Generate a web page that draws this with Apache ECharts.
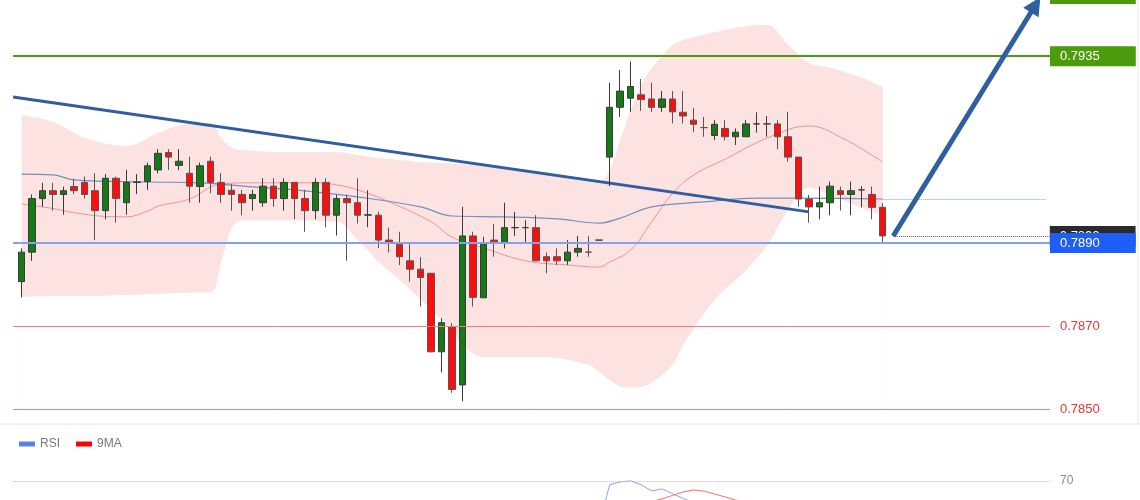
<!DOCTYPE html>
<html><head><meta charset="utf-8">
<script src="https://cdn.jsdelivr.net/npm/echarts@6/dist/echarts.min.js"></script>
<style>html,body{margin:0;padding:0;background:#fff;}#c{width:1140px;height:500px;}</style>
</head><body><div id="c"></div>
<script>
// ---- candles (index 0..82) ----
const opens = [0.78807,0.78878,0.79007,0.79026,0.79017,0.79036,0.79046,0.79026,0.78978,0.79056,
0.78997,0.79046,0.79048,0.79076,0.79118,0.79087,0.79068,0.79036,0.79097,0.79046,
0.79027,0.79017,0.79007,0.78997,0.79037,0.79007,0.79046,0.79007,0.78978,0.79046,
0.78967,0.79007,0.78997,0.78967,0.78967,0.78907,0.78897,0.78857,0.78837,0.78827,
0.78638,0.78698,0.78558,0.78917,0.78768,0.78907,0.78899,0.78937,0.78937,0.78937,
0.78867,0.78867,0.78857,0.78878,0.78878,0.78907,0.79107,0.79227,0.79249,0.79257,
0.79247,0.79227,0.79247,0.79215,0.79196,0.79178,0.79159,0.79176,0.79156,0.79156,
0.79187,0.79187,0.79187,0.79156,0.79107,0.79006,0.78987,0.78997,0.79026,0.79017,
0.79028,0.79017,0.78986];
const closes = [0.78878,0.79007,0.79026,0.79017,0.79026,0.79026,0.79017,0.78978,0.79056,0.79007,
0.79046,0.79047,0.79086,0.79116,0.79107,0.79097,0.79037,0.79086,0.79046,0.79017,
0.79017,0.78997,0.79017,0.79037,0.79007,0.79046,0.79007,0.78978,0.79046,0.78967,
0.79007,0.78997,0.78967,0.78968,0.78907,0.78899,0.78867,0.78837,0.78817,0.78638,
0.78708,0.78547,0.78917,0.78769,0.78898,0.78899,0.78937,0.78937,0.78937,0.78857,
0.78857,0.78857,0.78878,0.78887,0.78878,0.78907,0.79227,0.79266,0.79277,0.79246,
0.79227,0.79247,0.79216,0.79206,0.79186,0.79178,0.79186,0.79156,0.79167,0.79187,
0.79187,0.79187,0.79156,0.79107,0.79006,0.78987,0.78997,0.79037,0.79017,0.79026,
0.79028,0.78986,0.78917];
const lows = [0.78769,0.78857,0.78987,0.78978,0.78968,0.79018,0.79007,0.78907,0.78957,0.78949,
0.78968,0.79018,0.79028,0.79068,0.79076,0.79076,0.78997,0.78997,0.79020,0.78997,
0.78978,0.78967,0.78978,0.78987,0.78987,0.78978,0.78957,0.78927,0.78957,0.78938,
0.78918,0.78857,0.78947,0.78938,0.78888,0.78877,0.78847,0.78807,0.78747,0.78636,
0.78588,0.78539,0.78519,0.78747,0.78768,0.78867,0.78887,0.78917,0.78899,0.78857,
0.78827,0.78847,0.78847,0.78867,0.78867,0.78907,0.79037,0.79204,0.79216,0.79218,
0.79216,0.79216,0.79188,0.79188,0.79167,0.79156,0.79148,0.79147,0.79136,0.79156,
0.79166,0.79156,0.79126,0.79096,0.78987,0.78949,0.78957,0.78967,0.78978,0.78967,
0.78986,0.78957,0.78898];
const highs = [0.78887,0.79017,0.79045,0.79045,0.79036,0.79055,0.79060,0.79068,0.79066,0.79060,
0.79076,0.79066,0.79094,0.79126,0.79126,0.79126,0.79108,0.79094,0.79108,0.79068,
0.79042,0.79028,0.79028,0.79056,0.79056,0.79056,0.79046,0.79028,0.79056,0.79056,
0.79016,0.79016,0.79056,0.79027,0.78975,0.78937,0.78927,0.78897,0.78866,0.78828,
0.78719,0.78707,0.78987,0.78927,0.78915,0.78946,0.78997,0.78975,0.78955,0.78967,
0.78877,0.78887,0.78907,0.78917,0.78917,0.78907,0.79286,0.79317,0.79337,0.79295,
0.79286,0.79266,0.79266,0.79266,0.79225,0.79204,0.79196,0.79196,0.79176,0.79196,
0.79215,0.79206,0.79196,0.79216,0.79107,0.79016,0.79036,0.79048,0.79036,0.79048,
0.79037,0.79036,0.78996];

// ---- Bollinger band (sampled at candle indices) ----
const bandIdx = [0,3,6,10,13,15,18,19,20,21,25,30,32,34,36,38,40,42,44,50,54,55,56,57,58,59,60,62,63,66,69,71,73,75,77,80,82];
const bbUpper = [0.79208,0.79192,0.79153,0.79134,0.79165,0.79184,0.79189,0.79153,0.79129,0.79124,
0.79119,0.79119,0.79112,0.79105,0.79100,0.79095,0.79093,0.79090,0.79088,0.79071,
0.79052,0.79047,0.79076,0.79148,0.79220,0.79281,0.79322,0.79377,0.79389,0.79408,
0.79423,0.79425,0.79377,0.79334,0.79322,0.79298,0.79276];
const bbLower = [0.78770,0.78772,0.78772,0.78775,0.78777,0.78780,0.78782,0.78854,0.78936,0.78955,
0.78955,0.78951,0.78907,0.78854,0.78811,0.78763,0.78714,0.78654,0.78625,0.78625,
0.78606,0.78589,0.78570,0.78555,0.78551,0.78553,0.78563,0.78606,0.78654,0.78763,
0.78835,0.78895,0.78980,0.79033,0.79016,0.78984,0.78967];

// ---- moving averages ----
const maRedIdx = [0,3,5,8,10,12,13,16,18,19,22,28,30,32,35,39,41,44,48,52,55,56,58,60,62,64,67,71,75,78,82];
const maRed = [0.78994,0.78983,0.78973,0.78964,0.78963,0.78977,0.78989,0.79006,0.79035,0.79042,
0.79045,0.79045,0.79040,0.79028,0.78999,0.78951,0.78914,0.78888,0.78857,0.78847,
0.78842,0.78854,0.78883,0.78951,0.79020,0.79064,0.79102,0.79153,0.79182,0.79155,0.79095];
const maBlueIdx = [0,3,5,12,17,22,26,32,38,41,46,51,55,57,60,65,70,74,82];
const maBlue = [0.79066,0.79064,0.79052,0.79047,0.79045,0.79035,0.79028,0.79011,0.78987,0.78965,
0.78963,0.78958,0.78948,0.78960,0.78987,0.78999,0.79008,0.79008,0.79006];

// ---- drawn objects ----
const trendIdx = [-0.82, 74.98];
const trendVal = [0.79252, 0.78975];
const arrowIdx = [83.0, 96.56];
const arrowVal = [0.78917, 0.79474];
const levelVals = [0.7950, 0.7935, 0.7890, 0.7870, 0.7850];
const levelText = ['0.7950', '0.7935', '0.7890', '0.7870', '0.7850'];
const priceNow = 0.78917, priceNowText = '0.7892';

// ---- RSI panel ----
const rsiIdx = [48,49,50,51,52,53,54,55,56,57,58,59,60,61,62,63,64,65,66,67,68,69,70,71,72,73,74,75,76,77,78,79,80,81,82];
const rsiVal = [44,38,37,38,40,41,42,39,67.2,69.3,70.1,67.2,62.8,64.2,60.6,57.3,54.0,52.5,54,50.5,51.5,53,53.5,53,50,45,36,34,37,42,40,41.5,41,37,30];
const ma9Idx = [50,51,52,53,54,55,56,57,58,59,60,61,62,63,64,65,66,67,68,69,70,71,72,73,74,75,76,77,78,79,80,81,82];
const ma9Val = [42,41,40,40,40,40,43,46.5,50,53,55,57,59.5,62,63.5,62.5,60.5,58.3,56,55,54.5,54,53,52,50,48,46,45,44,42,41,40,39];
const rsiLevel = 70;

const X_MIN = -0.829, X_MAX = 97.93;
const FONT = "'Liberation Sans', Arial, sans-serif";
const pairs = (xs, ys) => xs.map((x, i) => [x, ys[i]]);
const candleData = opens.map((o, i) => [i, o, closes[i], lows[i], highs[i]]);

function tag(bg, text) {
  return {show: true, position: 'end', distance: 0, formatter: text, color: '#fff',
    backgroundColor: bg, padding: [3, 36, 3, 10], fontSize: 13, lineHeight: 14, fontFamily: FONT};
}
function plain(color, text) {
  return {show: true, position: 'end', distance: 10, formatter: text, color: color,
    fontSize: 13, fontFamily: FONT};
}

const chart = echarts.init(document.getElementById('c'), null, {renderer: 'canvas'});
chart.setOption({
  animation: false,
  backgroundColor: '#ffffff',
  textStyle: {fontFamily: FONT},
  graphic: [
    {type: 'line', shape: {x1: 0, y1: 424, x2: 1140, y2: 424}, style: {stroke: '#e6e6e6', lineWidth: 1}, silent: true},
    {type: 'line', shape: {x1: 1138, y1: 0, x2: 1138, y2: 424}, style: {stroke: '#ececec', lineWidth: 1}, silent: true}
  ],
  legend: {
    data: ['RSI', '9MA'], left: 14, top: 433, icon: 'rect', itemWidth: 16, itemHeight: 5, itemGap: 16,
    selectedMode: false,
    textStyle: {color: '#777', fontSize: 12, fontFamily: "'Liberation Sans Narrow','Liberation Sans',sans-serif"}
  },
  grid: [
    {left: 13, right: 90, top: -20, height: 442, outerBoundsMode: 'none'},
    {left: 13, right: 90, top: 440, height: 60, outerBoundsMode: 'none'}
  ],
  xAxis: [
    {type: 'value', gridIndex: 0, min: X_MIN, max: X_MAX, show: false},
    {type: 'value', gridIndex: 1, min: X_MIN, max: X_MAX, show: false}
  ],
  yAxis: [
    {type: 'value', gridIndex: 0, min: 0.784687, max: 0.795337, show: false, scale: true},
    {type: 'value', gridIndex: 1, min: 56.1, max: 100, show: false, scale: true}
  ],
  series: [
    {name: 'bbU', type: 'line', data: pairs(bandIdx, bbUpper), symbol: 'none', smooth: 0.35, silent: true, z: 1,
      lineStyle: {width: 0}, areaStyle: {color: '#fde2e2', opacity: 1, origin: 'start'}},
    {name: 'bbL', type: 'line', data: pairs(bandIdx, bbLower), symbol: 'none', smooth: 0.35, silent: true, z: 1,
      lineStyle: {width: 0}, areaStyle: {color: '#ffffff', opacity: 1, origin: 'start'}},
    {name: 'sma', type: 'line', data: pairs(maRedIdx, maRed), symbol: 'none', smooth: 0.4, silent: true, z: 2,
      lineStyle: {color: '#f59090', width: 1}},
    {name: 'ma', type: 'line', data: pairs(maBlueIdx, maBlue), symbol: 'none', smooth: 0.4, silent: true, z: 2,
      lineStyle: {color: '#7290bd', width: 1.2}},
    {name: 'trend', type: 'line', data: pairs(trendIdx, trendVal), symbol: 'none', silent: true, z: 3,
      lineStyle: {color: '#2f5e9e', width: 3}},
    {name: 'price', type: 'candlestick', data: candleData, barWidth: 7, z: 4, silent: true,
      itemStyle: {color: '#157a15', color0: '#ff0d0d', borderColor: '#3a3a3a', borderColor0: '#555555', borderWidth: 1},
      markLine: {silent: true, symbol: ['none', 'none'], animation: false, precision: 6, z: 6, data: [
        [{coord: [82, maBlue[maBlue.length - 1]], lineStyle: {color: '#8aa0c8', width: 1, type: 'dotted'}, label: {show: false}},
         {coord: [X_MAX - 0.3, maBlue[maBlue.length - 1]]}],
        [{coord: [83, priceNow], lineStyle: {color: '#555', width: 1, type: 'dotted'}, label: tag('#2b2b2b', priceNowText)},
         {coord: [X_MAX - 0.02, priceNow]}],
        {yAxis: levelVals[0], lineStyle: {color: '#4b9b0b', width: 2, type: 'solid'}, label: tag('#4b9b0b', levelText[0])},
        {yAxis: levelVals[1], lineStyle: {color: '#4b9b0b', width: 2, type: 'solid'}, label: tag('#4b9b0b', levelText[1])},
        {yAxis: levelVals[2], lineStyle: {color: '#7fa2f2', width: 2, type: 'solid'}, label: tag('#1f5ef6', levelText[2])},
        {yAxis: levelVals[3], lineStyle: {color: '#f28080', width: 1, type: 'solid'}, label: plain('#f03333', levelText[3])},
        {yAxis: levelVals[4], lineStyle: {color: '#f28080', width: 1, type: 'solid'}, label: plain('#f03333', levelText[4])}
      ]}},
    {name: 'arrow', type: 'line', data: pairs(arrowIdx, arrowVal), z: 7, silent: true, symbol: 'none',
      lineStyle: {width: 0, opacity: 0},
      markLine: {silent: true, symbol: ['none', 'triangle'], symbolSize: 18, animation: false, precision: 6, z: 7, data: [
        [{coord: [arrowIdx[0], arrowVal[0]], lineStyle: {color: '#2f5f9f', width: 5, type: 'solid'}, label: {show: false}},
         {coord: [arrowIdx[1], arrowVal[1]]}]
      ]}},
    {name: 'RSI', type: 'line', xAxisIndex: 1, yAxisIndex: 1, data: pairs(rsiIdx, rsiVal), symbol: 'none', silent: true,
      itemStyle: {color: '#5b80e2'}, lineStyle: {color: '#8aa3ea', width: 1},
      markLine: {silent: true, symbol: ['none', 'none'], animation: false, data: [
        {yAxis: rsiLevel, lineStyle: {color: '#c4c4c4', width: 1, type: 'dotted'},
         label: {show: true, position: 'end', distance: 10, formatter: String(rsiLevel), color: '#888', fontSize: 12, fontFamily: FONT}}
      ]}},
    {name: '9MA', type: 'line', xAxisIndex: 1, yAxisIndex: 1, data: pairs(ma9Idx, ma9Val), symbol: 'none', silent: true,
      itemStyle: {color: '#ff0000'}, lineStyle: {color: '#ff6a6a', width: 1}}
  ]
});
</script>
</body></html>
